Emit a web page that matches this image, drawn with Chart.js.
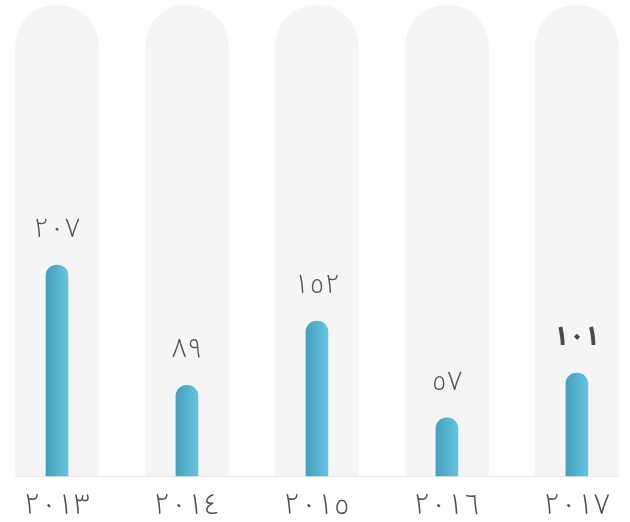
<!DOCTYPE html>
<html>
<head>
<meta charset="utf-8">
<script src="https://cdn.jsdelivr.net/npm/chart.js@4/dist/chart.umd.min.js"></script>
<style>
  body { margin: 0; background: #fff; }
  .chart-wrap { width: 630px; height: 522px; }
</style>
</head>
<body>
<div class="chart-wrap"><canvas class="js-chart"></canvas></div>
<script>
const years = ["٢٠١٣", "٢٠١٤", "٢٠١٥", "٢٠١٦", "٢٠١٧"];
const values = [207, 89, 152, 57, 101];
const valueLabels = ["٢٠٧", "٨٩", "١٥٢", "٥٧", "١٠١"];
const maxValue = 462;
const trackValues = [maxValue, maxValue, maxValue, maxValue, maxValue];

const fontFamily = "'Noto Sans Arabic', 'Noto Kufi Arabic', 'Noto Naskh Arabic', sans-serif";

const barGradient = function (context) {
  const chart = context.chart;
  if (!chart.chartArea) return "#52b2cf";
  const x = chart.scales.x.getPixelForValue(context.dataIndex);
  const g = chart.ctx.createLinearGradient(x - 11, 0, x + 11, 0);
  g.addColorStop(0, "#479fbd");
  g.addColorStop(1, "#62c5df");
  return g;
};

const valueLabelPlugin = {
  id: "valueLabels",
  afterDatasetsDraw(chart) {
    const ctx = chart.ctx;
    const meta = chart.getDatasetMeta(0);
    ctx.save();
    ctx.textAlign = "center";
    ctx.textBaseline = "middle";
    meta.data.forEach(function (bar, i) {
      const last = i === meta.data.length - 1;
      ctx.font = (last ? "bold " : "300 ") + "27px " + fontFamily;
      ctx.fillStyle = last ? "#4a4a4a" : "#555";
      ctx.fillText(valueLabels[i], bar.x, bar.y - 32);
    });
    ctx.restore();
  },
  beforeDatasetsDraw(chart) {
    // light base line under the tracks
    const meta = chart.getDatasetMeta(1);
    const first = meta.data[0];
    const last = meta.data[meta.data.length - 1];
    const y = chart.scales.y.getPixelForValue(0);
    const ctx = chart.ctx;
    ctx.save();
    ctx.strokeStyle = "#e6e6e6";
    ctx.lineWidth = 1;
    ctx.beginPath();
    ctx.moveTo(first.x - first.width / 2, y + 0.5);
    ctx.lineTo(last.x + last.width / 2, y + 0.5);
    ctx.stroke();
    ctx.restore();
  },
};

const drawChart = function () {
  const el = document.querySelector(".js-chart");
  new Chart(el, {
    type: "bar",
    data: {
      labels: years,
      datasets: [
        {
          data: values,
          backgroundColor: barGradient,
          barThickness: 22,
          borderRadius: 11,
          grouped: false,
          clip: false,
          order: 0,
        },
        {
          data: trackValues,
          backgroundColor: "#f5f5f5",
          barThickness: 83,
          borderRadius: 42,
          grouped: false,
          clip: false,
          order: 1,
        },
      ],
    },
    plugins: [valueLabelPlugin],
    options: {
      responsive: true,
      maintainAspectRatio: false,
      animation: false,
      layout: { padding: { left: 57, right: 47.5, top: 5, bottom: 0 } },
      plugins: {
        legend: { display: false },
        tooltip: { enabled: false },
      },
      scales: {
        x: {
          offset: false,
          grid: { display: false, drawTicks: false },
          border: { display: false },
          afterFit(scale) {
            scale.height = 46;
          },
          ticks: {
            color: "#505050",
            padding: 20,
            font: { family: fontFamily, size: 29, weight: "300", lineHeight: 0.92 },
          },
        },
        y: {
          display: false,
          min: 0,
          max: maxValue,
        },
      },
    },
  });
};

document.addEventListener("DOMContentLoaded", drawChart);
</script>
</body>
</html>
